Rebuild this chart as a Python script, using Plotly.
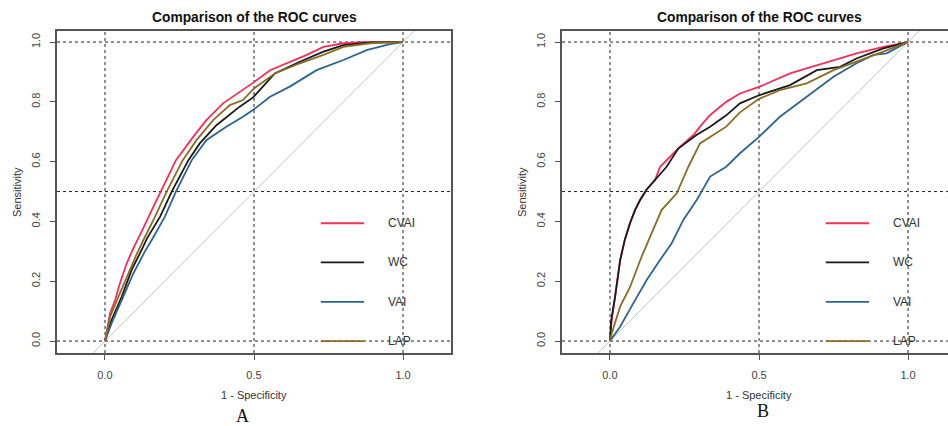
import plotly.graph_objects as go

# ---------------- data ----------------
series_names = ["CVAI", "WC", "VAI", "LAP"]
series_colors = ["#F2305A", "#1A1A1A", "#2E6590", "#8A6D24"]
panel_labels = ["A", "B"]
title_text = "Comparison of the ROC curves"
x_title = "1 - Specificity"
y_title = "Sensitivity"
x_tick_vals = [0.0, 0.5, 1.0]
x_tick_text = ["0.0", "0.5", "1.0"]
y_tick_vals = [0.0, 0.2, 0.4, 0.6, 0.8, 1.0]
y_tick_text = ["0.0", "0.2", "0.4", "0.6", "0.8", "1.0"]
ref_x = [0.0, 0.5, 1.0]
ref_y = [0.0, 0.5, 1.0]
legend_y = [0.394, 0.263, 0.131, 0.0]

# Panel A (1 - specificity, sensitivity)
cvai_a_fpr = [0, 0.017, 0.034, 0.05, 0.073, 0.095, 0.12, 0.145, 0.165, 0.187, 0.212, 0.238, 0.296, 0.34, 0.396, 0.463, 0.5, 0.554, 0.62, 0.677, 0.733, 0.8, 0.856, 1.0]
cvai_a_tpr = [0, 0.093, 0.137, 0.193, 0.26, 0.31, 0.36, 0.416, 0.455, 0.5, 0.55, 0.605, 0.683, 0.739, 0.795, 0.839, 0.866, 0.906, 0.934, 0.957, 0.984, 0.996, 1.0, 1.0]
wc_a_fpr = [0, 0.022, 0.056, 0.089, 0.123, 0.142, 0.185, 0.224, 0.28, 0.318, 0.374, 0.452, 0.497, 0.57, 0.654, 0.733, 0.8, 0.89, 1.0]
wc_a_tpr = [0, 0.07, 0.148, 0.237, 0.305, 0.345, 0.416, 0.5, 0.605, 0.661, 0.722, 0.784, 0.815, 0.895, 0.934, 0.968, 0.99, 0.999, 1.0]
vai_a_fpr = [0, 0.022, 0.061, 0.095, 0.134, 0.157, 0.201, 0.238, 0.291, 0.34, 0.407, 0.463, 0.5, 0.554, 0.62, 0.71, 0.8, 0.878, 0.956, 1.0]
vai_a_tpr = [0, 0.059, 0.148, 0.226, 0.3, 0.338, 0.416, 0.5, 0.605, 0.672, 0.717, 0.75, 0.775, 0.817, 0.851, 0.906, 0.94, 0.973, 0.993, 1.0]
lap_a_fpr = [0, 0.017, 0.045, 0.073, 0.106, 0.129, 0.168, 0.207, 0.261, 0.307, 0.363, 0.419, 0.463, 0.5, 0.57, 0.654, 0.733, 0.8, 0.89, 1.0]
lap_a_tpr = [0, 0.081, 0.148, 0.215, 0.29, 0.338, 0.416, 0.5, 0.605, 0.672, 0.739, 0.789, 0.806, 0.845, 0.895, 0.929, 0.957, 0.984, 0.996, 1.0]

# Panel B
cvai_b_fpr = [0, 0.006, 0.017, 0.034, 0.05, 0.067, 0.084, 0.1, 0.123, 0.151, 0.168, 0.229, 0.28, 0.302, 0.336, 0.39, 0.436, 0.5, 0.604, 0.716, 0.827, 0.917, 1.0]
cvai_b_tpr = [0, 0.07, 0.148, 0.27, 0.34, 0.394, 0.438, 0.47, 0.507, 0.538, 0.583, 0.644, 0.689, 0.717, 0.756, 0.8, 0.828, 0.85, 0.895, 0.929, 0.962, 0.984, 1.0]
wc_b_fpr = [0, 0.004, 0.017, 0.034, 0.05, 0.067, 0.084, 0.1, 0.123, 0.151, 0.19, 0.229, 0.29, 0.336, 0.39, 0.436, 0.5, 0.604, 0.694, 0.772, 0.827, 0.917, 1.0]
wc_b_tpr = [0, 0.07, 0.148, 0.27, 0.34, 0.394, 0.438, 0.47, 0.507, 0.538, 0.583, 0.644, 0.689, 0.717, 0.755, 0.795, 0.822, 0.856, 0.906, 0.917, 0.945, 0.979, 1.0]
vai_b_fpr = [0, 0.006, 0.034, 0.078, 0.123, 0.168, 0.207, 0.246, 0.291, 0.336, 0.39, 0.436, 0.5, 0.57, 0.66, 0.75, 0.827, 0.884, 0.928, 1.0]
vai_b_tpr = [0, 0.009, 0.048, 0.126, 0.204, 0.271, 0.327, 0.405, 0.472, 0.55, 0.583, 0.628, 0.683, 0.75, 0.817, 0.884, 0.929, 0.957, 0.962, 1.0]
lap_b_fpr = [0, 0.006, 0.034, 0.067, 0.106, 0.145, 0.173, 0.224, 0.263, 0.302, 0.347, 0.39, 0.436, 0.5, 0.57, 0.66, 0.75, 0.827, 0.917, 1.0]
lap_b_tpr = [0, 0.026, 0.115, 0.18, 0.282, 0.371, 0.438, 0.494, 0.583, 0.661, 0.689, 0.717, 0.765, 0.81, 0.839, 0.862, 0.906, 0.934, 0.968, 1.0]

panels = [
    [(cvai_a_fpr, cvai_a_tpr), (wc_a_fpr, wc_a_tpr), (vai_a_fpr, vai_a_tpr), (lap_a_fpr, lap_a_tpr)],
    [(cvai_b_fpr, cvai_b_tpr), (wc_b_fpr, wc_b_tpr), (vai_b_fpr, vai_b_tpr), (lap_b_fpr, lap_b_tpr)],
]

# ---------------- layout constants ----------------
W, H = 948, 426
FONT = "Liberation Sans, Arial, sans-serif"
x_domains = [[57 / W, 451 / W], [562 / W, 1.0]]
x_ranges = [[-0.161, 1.161], [-0.161, 1.134]]
y_domain = [1 - 353 / H, 1 - 31 / H]
y_range = [-0.04, 1.037]
panel_centers_px = [254, 759]
ylab_px = [17, 522]
letter_pos = [(242, 416), (763, 411)]

fig = go.Figure()

for p, curves in enumerate(panels):
    xa = "x" if p == 0 else "x2"
    ya = "y" if p == 0 else "y2"
    # diagonal reference line
    fig.add_trace(go.Scatter(x=[-0.3, 1.3], y=[-0.3, 1.3], mode="lines",
                             line=dict(color="#C4C4C4", width=1),
                             xaxis=xa, yaxis=ya, showlegend=False, hoverinfo="skip"))
    for (fx, ty), name, col in zip(curves, series_names, series_colors):
        fig.add_trace(go.Scatter(x=fx, y=ty, mode="lines", name=name,
                                 line=dict(color=col, width=1.8),
                                 xaxis=xa, yaxis=ya, showlegend=False))
    # dotted reference grid
    for v in ref_x:
        fig.add_shape(type="line", xref=xa, yref=f"{ya} domain", x0=v, x1=v, y0=0, y1=1,
                      line=dict(color="#222222", width=1, dash="dot"), layer="below")
    for v in ref_y:
        fig.add_shape(type="line", xref=f"{xa} domain", yref=ya, x0=0, x1=1, y0=v, y1=v,
                      line=dict(color="#222222", width=1, dash="dot"), layer="below")
    # legend
    for name, col, ly in zip(series_names, series_colors, legend_y):
        fig.add_shape(type="line", xref=xa, yref=ya, x0=0.724, x1=0.869, y0=ly, y1=ly,
                      line=dict(color=col, width=1.8))
        fig.add_annotation(x=0.943, y=ly, xref=xa, yref=ya, text=name, showarrow=False,
                           xanchor="left", yanchor="middle",
                           font=dict(family=FONT, size=12, color="#333333"))
    cx = panel_centers_px[p] / W
    fig.add_annotation(x=cx, y=1 - 17 / H, xref="paper", yref="paper", text=f"<b>{title_text}</b>",
                       showarrow=False, xanchor="center", yanchor="middle",
                       font=dict(family=FONT, size=13.8, color="#111111"))
    fig.add_annotation(x=cx, y=1 - 395 / H, xref="paper", yref="paper", text=x_title,
                       showarrow=False, xanchor="center", yanchor="middle",
                       font=dict(family=FONT, size=11, color="#333333"))
    fig.add_annotation(x=ylab_px[p] / W, y=1 - 192 / H, xref="paper", yref="paper", text=y_title,
                       showarrow=False, xanchor="center", yanchor="middle", textangle=-90,
                       font=dict(family=FONT, size=11, color="#333333"))
    lx, ly_ = letter_pos[p]
    fig.add_annotation(x=lx / W, y=1 - ly_ / H, xref="paper", yref="paper", text=panel_labels[p],
                       showarrow=False, xanchor="center", yanchor="middle",
                       font=dict(family="Liberation Serif, Times New Roman, serif", size=18, color="#111111"))

axis_common = dict(showgrid=False, zeroline=False, showline=True,
                   linecolor="#555555", linewidth=1.5, ticks="outside", ticklen=5,
                   tickcolor="#555555", tickwidth=1,
                   tickfont=dict(family=FONT, size=11, color="#444444"))

fig.update_layout(
    width=W, height=H, autosize=False,
    margin=dict(l=0, r=0, t=0, b=0),
    paper_bgcolor="white", plot_bgcolor="white",
    showlegend=False,
    xaxis=dict(domain=x_domains[0], range=x_ranges[0], anchor="y", tickvals=x_tick_vals,
               ticktext=x_tick_text, ticklabelstandoff=6, mirror=True, **axis_common),
    yaxis=dict(domain=y_domain, range=y_range, anchor="x", tickvals=y_tick_vals,
               ticktext=y_tick_text, tickangle=-90, ticklabelstandoff=6, mirror=True, **axis_common),
    xaxis2=dict(domain=x_domains[1], range=x_ranges[1], anchor="y2", tickvals=x_tick_vals,
                ticktext=x_tick_text, ticklabelstandoff=6, mirror=True, **axis_common),
    yaxis2=dict(domain=y_domain, range=y_range, anchor="x2", tickvals=y_tick_vals,
                ticktext=y_tick_text, tickangle=-90, ticklabelstandoff=6, mirror=False, **axis_common),
)

fig.write_html("out.html", config={"displayModeBar": False},
               post_script="document.body.style.margin='0px';document.body.style.overflow='hidden';")
